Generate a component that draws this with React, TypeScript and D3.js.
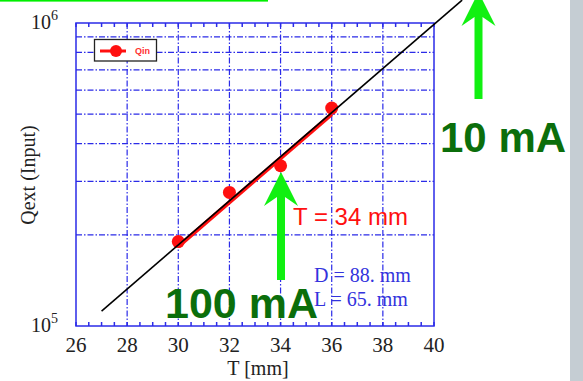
import { useEffect, useRef } from "react";
import * as d3 from "d3";

// measured points
const thickness = [30, 32, 34, 36];
const qext = [1.9e5, 2.76e5, 3.38e5, 5.24e5];

// red fit through the points (end points)
const redFitT = [30, 36];
const redFitQ = [1.83e5, 5.0e5];

// black straight line on the log scale (end points)
const fitT = [27, 41.1];
const fitQ = [1.12e5, 1.19e6];

const xTicks = [26, 28, 30, 32, 34, 36, 38, 40];
const yGrid = [2e5, 3e5, 4e5, 5e5, 6e5, 7e5, 8e5, 9e5];

const W = 583;
const H = 381;
const blue = "#2b2be8";

const App = () => {
  const ref = useRef<SVGSVGElement | null>(null);

  useEffect(() => {
    const svg = d3.select(ref.current);
    svg.selectAll("*").remove();

    const left = 76, right = 434, top = 23, bottom = 326;
    const x = d3.scaleLinear().domain([26, 40]).range([left, right]);
    const y = d3.scaleLog().domain([1e5, 1e6]).range([bottom, top]);

    svg.append("rect").attr("width", W).attr("height", H).attr("fill", "#fff");
    svg.append("rect").attr("x", 570).attr("y", 0).attr("width", 13).attr("height", H).attr("fill", "#c5cdd3");
    svg.append("rect").attr("x", 0).attr("y", 0).attr("width", 268).attr("height", 1.6).attr("fill", "#00ee00");

    // grid
    const grid = svg.append("g").attr("stroke", blue).attr("stroke-width", 1.2)
      .attr("stroke-dasharray", "6,2,1.5,2").attr("fill", "none");
    grid.selectAll("line.v").data(xTicks.slice(1, -1)).join("line").attr("class", "v")
      .attr("x1", d => x(d)).attr("x2", d => x(d)).attr("y1", top).attr("y2", bottom);
    grid.selectAll("line.h").data(yGrid).join("line").attr("class", "h")
      .attr("x1", left).attr("x2", right).attr("y1", d => y(d)).attr("y2", d => y(d));

    // frame + ticks
    const minor = d3.range(26, 40.01, 0.5);
    const ax = svg.append("g").attr("stroke", blue).attr("stroke-width", 1.5);
    ax.append("rect").attr("x", left).attr("y", top).attr("width", right - left).attr("height", bottom - top).attr("fill", "none");
    ax.selectAll("line.b").data(minor).join("line").attr("class", "b")
      .attr("x1", d => x(d)).attr("x2", d => x(d)).attr("y1", bottom).attr("y2", bottom - 4);
    ax.selectAll("line.t").data(minor).join("line").attr("class", "t")
      .attr("x1", d => x(d)).attr("x2", d => x(d)).attr("y1", top).attr("y2", top + 4);

    // tick labels
    const serif = "'Liberation Serif', 'Times New Roman', serif";
    svg.append("g").selectAll("text").data(xTicks).join("text")
      .attr("x", d => x(d)).attr("y", 352).attr("text-anchor", "middle")
      .attr("font-family", serif).attr("font-size", 21).attr("fill", "#222")
      .text(d => d);
    [[1e5, "5"], [1e6, "6"]].forEach(([v, e]) => {
      const t = svg.append("text").attr("x", 58).attr("y", y(v as number) + 6)
        .attr("text-anchor", "end").attr("font-family", serif).attr("font-size", 20).attr("fill", "#222");
      t.append("tspan").text("10");
      t.append("tspan").attr("dy", -9).attr("font-size", 14).text(e as string);
    });
    svg.append("text").attr("x", 258).attr("y", 375).attr("text-anchor", "middle")
      .attr("font-family", serif).attr("font-size", 20).attr("fill", "#222").text("T [mm]");
    svg.append("text").attr("transform", "translate(35,175) rotate(-90)").attr("text-anchor", "middle")
      .attr("font-family", serif).attr("font-size", 20).attr("fill", "#222").text("Qext (Input)");

    // data
    const line = d3.line<[number, number]>().x(d => x(d[0])).y(d => y(d[1]));
    const pts = thickness.map((t, i) => [t, qext[i]] as [number, number]);
    const redFit = redFitT.map((t, i) => [t, redFitQ[i]] as [number, number]);
    svg.append("path").datum(redFit).attr("d", line).attr("fill", "none")
      .attr("stroke", "#ff1010").attr("stroke-width", 4);
    svg.append("g").selectAll("circle").data(pts).join("circle")
      .attr("cx", d => x(d[0])).attr("cy", d => y(d[1])).attr("r", 6.5).attr("fill", "#ff1010");

    const fit = fitT.map((t, i) => [t, fitQ[i]] as [number, number]);
    svg.append("path").datum(fit).attr("d", line).attr("fill", "none")
      .attr("stroke", "#000").attr("stroke-width", 1.6);

    // legend
    svg.append("rect").attr("x", 94.5).attr("y", 39.5).attr("width", 62).attr("height", 21.5)
      .attr("fill", "#fff").attr("stroke", "#222").attr("stroke-width", 1.3);
    svg.append("line").attr("x1", 100).attr("x2", 126).attr("y1", 51).attr("y2", 51)
      .attr("stroke", "#ff1010").attr("stroke-width", 3);
    svg.append("circle").attr("cx", 116).attr("cy", 51).attr("r", 6).attr("fill", "#ff1010");
    svg.append("text").attr("x", 135).attr("y", 54).attr("font-family", "'Liberation Sans', Arial, sans-serif")
      .attr("font-size", 9).attr("font-weight", "bold").attr("fill", "#ff3030").text("Qin");

    // annotations
    const arrow = (cx: number, tip: number, base: number) => {
      svg.append("path").attr("fill", "#11f011").attr("d",
        `M${cx},${tip} L${cx + 17},${tip + 34} L${cx + 4},${tip + 25} L${cx + 4},${base} L${cx - 4},${base} L${cx - 4},${tip + 25} L${cx - 17},${tip + 34} Z`);
    };
    arrow(281, 172, 280);
    arrow(478.5, -8, 99);

    const sans = "'Liberation Sans', Arial, sans-serif";
    svg.append("text").attr("x", 293).attr("y", 225).attr("font-family", sans).attr("font-size", 24)
      .attr("fill", "#ff1010").text("T = 34 mm");
    svg.append("text").attr("x", 314).attr("y", 282).attr("font-family", serif).attr("font-size", 20)
      .attr("fill", "#3333dd").text("D = 88. mm");
    svg.append("text").attr("x", 314).attr("y", 306).attr("font-family", serif).attr("font-size", 20)
      .attr("fill", "#3333dd").text("L = 65. mm");
    svg.append("text").attr("x", 165).attr("y", 318).attr("font-family", sans).attr("font-size", 43)
      .attr("font-weight", "bold").attr("fill", "#0b6e0b").text("100 mA");
    svg.append("text").attr("x", 440).attr("y", 152).attr("font-family", sans).attr("font-size", 42)
      .attr("font-weight", "bold").attr("fill", "#0b6e0b").text("10 mA");
  }, []);

  return (
    <svg ref={ref} width={W} height={H} style={{ position: "absolute", left: 0, top: 0 }} />
  );
};

export default App;
